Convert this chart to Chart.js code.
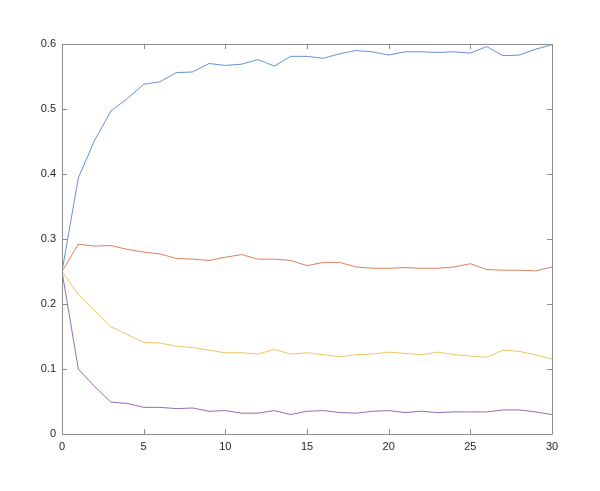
<!DOCTYPE html>
<html>
<head>
<meta charset="utf-8">
<script src="https://cdn.jsdelivr.net/npm/chart.js@4/dist/chart.umd.min.js"></script>
<style>
    html, body { margin: 0; padding: 0; background: #fff; }
    #wrap { width: 600px; height: 491px; position: relative; }
</style>
</head>
<body>
<div id="wrap"><canvas id="chart"></canvas></div>
<script>
// Valeurs (x = 0..30)
const steps = [0,1,2,3,4,5,6,7,8,9,10,11,12,13,14,15,16,17,18,19,20,21,22,23,24,25,26,27,28,29,30];
const blueVals = [0.25,0.394,0.452,0.497,0.516,0.538,0.542,0.556,0.557,0.570,0.567,0.569,0.576,0.566,0.581,0.581,0.578,0.585,0.590,0.588,0.583,0.588,0.588,0.587,0.588,0.586,0.596,0.582,0.583,0.592,0.599];
const orangeVals = [0.25,0.292,0.289,0.290,0.284,0.280,0.277,0.270,0.269,0.267,0.272,0.276,0.269,0.269,0.267,0.259,0.264,0.264,0.257,0.255,0.255,0.256,0.255,0.255,0.257,0.262,0.253,0.252,0.252,0.251,0.257];
const yellowVals = [0.25,0.215,0.190,0.165,0.153,0.141,0.140,0.135,0.133,0.129,0.125,0.125,0.123,0.130,0.123,0.125,0.122,0.119,0.122,0.123,0.126,0.124,0.122,0.126,0.122,0.120,0.118,0.129,0.127,0.122,0.115];
const purpleVals = [0.25,0.100,0.073,0.049,0.047,0.041,0.041,0.039,0.040,0.035,0.036,0.032,0.032,0.036,0.030,0.035,0.036,0.033,0.032,0.035,0.036,0.033,0.035,0.033,0.034,0.034,0.034,0.037,0.037,0.034,0.030];
const xTicks = [0,5,10,15,20,25,30];
const yTicks = [0,0.1,0.2,0.3,0.4,0.5,0.6];

function toPoints(vals) {
    return vals.map((v, i) => ({ x: steps[i], y: v }));
}

function serie(vals, color) {
    return {
        data: toPoints(vals),
        borderColor: color,
        borderWidth: 0.8,
        pointRadius: 0,
        showLine: true,
        fill: false,
        tension: 0
    };
}

// Cadre + graduations vers l'intérieur (style MATLAB)
const boxTicks = {
    id: 'boxTicks',
    afterDatasetsDraw(chart) {
        const ctx = chart.ctx;
        const a = chart.chartArea;
        const xs = chart.scales.x, ys = chart.scales.y;
        const len = 5;
        ctx.save();
        ctx.strokeStyle = '#8c8c8c';
        ctx.lineWidth = 1;
        ctx.beginPath();
        ctx.rect(Math.round(a.left) + 0.5, Math.round(a.top) + 0.5,
                 Math.round(a.right) - Math.round(a.left), Math.round(a.bottom) - Math.round(a.top));
        xTicks.forEach(t => {
            const px = Math.round(xs.getPixelForValue(t)) + 0.5;
            ctx.moveTo(px, a.bottom); ctx.lineTo(px, a.bottom - len);
            ctx.moveTo(px, a.top); ctx.lineTo(px, a.top + len);
        });
        yTicks.forEach(t => {
            const py = Math.round(ys.getPixelForValue(t)) + 0.5;
            ctx.moveTo(a.left, py); ctx.lineTo(a.left + len, py);
            ctx.moveTo(a.right, py); ctx.lineTo(a.right - len, py);
        });
        ctx.stroke();
        ctx.restore();
    }
};

const tickFont = { family: '"Liberation Sans", Arial, sans-serif', size: 11 };

new Chart(document.getElementById('chart').getContext('2d'), {
    type: 'scatter',
    data: {
        datasets: [
            serie(blueVals, '#3f72cf'),
            serie(orangeVals, '#d65f33'),
            serie(yellowVals, '#ebb53a'),
            serie(purpleVals, '#8244a0')
        ]
    },
    options: {
        responsive: true,
        maintainAspectRatio: false,
        animation: false,
        layout: { padding: { left: 0, top: 44, right: 48, bottom: 0 } },
        plugins: { legend: { display: false }, tooltip: { enabled: false } },
        scales: {
            x: {
                type: 'linear',
                min: 0, max: 30,
                afterBuildTicks: s => { s.ticks = xTicks.map(v => ({ value: v })); },
                afterFit: s => { s.height = 57; },
                grid: { display: false, drawTicks: false },
                border: { display: false },
                ticks: { color: '#262626', font: tickFont, padding: 6, maxRotation: 0 }
            },
            y: {
                type: 'linear',
                min: 0, max: 0.6,
                afterBuildTicks: s => { s.ticks = yTicks.map(v => ({ value: v })); },
                afterFit: s => { s.width = 62; },
                grid: { display: false, drawTicks: false },
                border: { display: false },
                ticks: { color: '#262626', font: tickFont, padding: 6 }
            }
        }
    },
    plugins: [boxTicks]
});
</script>
</body>
</html>
